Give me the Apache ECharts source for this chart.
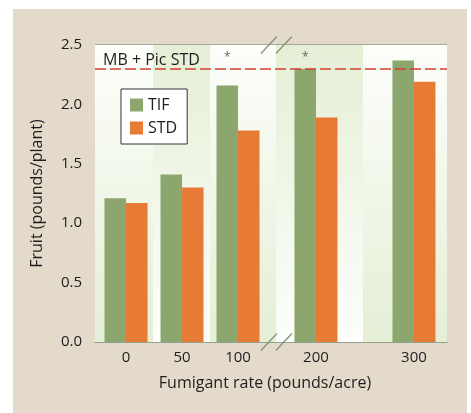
<!DOCTYPE html>
<html><head><meta charset="utf-8">
<script src="https://cdn.jsdelivr.net/npm/echarts@6/dist/echarts.min.js"></script>
<style>
html,body{margin:0;padding:0;background:#fff}
#bg{position:absolute;left:13px;top:9px;width:454px;height:404px;background:#e3dacb}
#c{position:absolute;left:0;top:0;width:471px;height:413px}
</style>
</head><body><div id="bg"></div><div id="c"></div>
<script>
// ---- data ----
const categories = ['0', '50', '100', '200', '300'];
const tif = [1.21, 1.41, 2.16, 2.30, 2.37];
const std = [1.17, 1.30, 1.78, 1.89, 2.19];
const significance = ['', '', '*', '*', ''];
const referenceValue = 2.3;
const referenceLabel = 'MB + Pic STD';
const yTicks = [0, 0.5, 1.0, 1.5, 2.0, 2.5];

// ---- layout of the broken x axis (axis units, not data) ----
const catPos = [0.554, 1.554, 2.554, 3.946, 5.696];
const bandEdges = [0, 1.036, 2.054, 3.232, 4.786, 6.286];
const breakPos = 3.24;
const sigLevel = 2.39;

const FONT = '"Open Sans", "Noto Sans", sans-serif';
const GREEN = '#e5efd6', WHITE = '#fdfefb';
const TXT = '#1e1e1e';

const chart = echarts.init(document.getElementById('c'), null, {renderer: 'canvas'});

const bands = [];
for (let i = 0; i < bandEdges.length - 1; i++) {
  const down = i % 2 === 0; // white top -> green bottom
  bands.push([
    {xAxis: bandEdges[i], itemStyle: {color: new echarts.graphic.LinearGradient(0, 0, 0, 1, [
      {offset: 0, color: down ? WHITE : GREEN},
      {offset: 1, color: down ? GREEN : WHITE}
    ])}},
    {xAxis: bandEdges[i + 1]}
  ]);
}

const option = {
  backgroundColor: 'transparent',
  animation: false,
  textStyle: {fontFamily: FONT},
  grid: {left: 95, right: 24, top: 45, bottom: 71, containLabel: false},
  legend: {
    orient: 'vertical',
    left: 121, top: 89,
    backgroundColor: '#fff',
    borderColor: '#333', borderWidth: 1,
    padding: [8, 10, 8, 9],
    itemWidth: 13, itemHeight: 13, itemGap: 7,
    textStyle: {fontFamily: FONT, fontSize: 16, color: TXT},
    data: [{name: 'TIF', icon: 'rect'}, {name: 'STD', icon: 'rect'}]
  },
  xAxis: {
    type: 'value',
    min: bandEdges[0], max: bandEdges[bandEdges.length - 1],
    axisLine: {show: true, lineStyle: {color: '#8e9c86', width: 1.5}},
    axisTick: {show: false},
    splitLine: {show: false},
    axisLabel: {
      customValues: catPos,
      formatter: v => {
        const i = catPos.findIndex(p => Math.abs(p - v) < 1e-6);
        return i >= 0 ? categories[i] : '';
      },
      fontFamily: FONT, fontSize: 15, color: TXT, margin: 8
    },
    name: 'Fumigant rate (pounds/acre)',
    nameLocation: 'middle', nameGap: 33,
    nameTextStyle: {fontFamily: FONT, fontSize: 16, color: TXT, padding: [0, 12, 0, 0]}
  },
  yAxis: {
    type: 'value', min: 0, max: 2.5, interval: 0.5,
    axisLine: {show: false}, axisTick: {show: false},
    splitLine: {show: true, lineStyle: {color: '#8e9c86', width: 1.5}},
    axisLabel: {
      customValues: yTicks,
      formatter: v => v.toFixed(1),
      fontFamily: FONT, fontSize: 15, color: TXT, margin: 13
    },
    name: 'Fruit (pounds/plant)',
    nameLocation: 'middle', nameGap: 50,
    nameTextStyle: {fontFamily: FONT, fontSize: 16, color: TXT}
  },
  series: [
    {
      type: 'line', data: [], z: -1, silent: true,
      markArea: {silent: true, data: bands}
    },
    {
      name: 'TIF', type: 'bar', barWidth: 21.5, barGap: '0%',
      itemStyle: {color: '#8ca76e'},
      data: tif.map((v, i) => [catPos[i], v]),
      markLine: {
        silent: true, symbol: 'none',
        lineStyle: {color: '#d53f33', width: 1.5, type: [11, 4]},
        label: {
          show: true, position: 'insideStartTop', formatter: referenceLabel,
          fontFamily: FONT, fontSize: 16, color: TXT, distance: [8, 0]
        },
        data: [{yAxis: referenceValue}]
      }
    },
    {
      name: 'STD', type: 'bar', barWidth: 21.5, barGap: '0%',
      itemStyle: {color: '#e77b36'},
      data: std.map((v, i) => [catPos[i], v])
    },
    {
      type: 'scatter', silent: true, symbolSize: 0,
      data: significance.map((s, i) => s ? {value: [catPos[i], sigLevel], label: {formatter: s}} : null).filter(Boolean),
      label: {show: true, position: 'inside', offset: [-10.75, 0], fontFamily: FONT, fontSize: 12, color: '#444'}
    }
  ]
};
chart.setOption(option);

// axis-break marks "//" at the top and bottom
const pTop = chart.convertToPixel({gridIndex: 0}, [breakPos, 2.5]);
const pBot = chart.convertToPixel({gridIndex: 0}, [breakPos, 0]);
const marks = [];
[pTop, pBot].forEach(p => {
  [-7.5, 7.5].forEach(dx => {
    marks.push({
      type: 'line', z: 100,
      shape: {x1: p[0] + dx - 8, y1: p[1] + 8.5, x2: p[0] + dx + 8, y2: p[1] - 8.5},
      style: {stroke: '#7f9274', lineWidth: 1.2}
    });
  });
});
chart.setOption({graphic: marks});
</script>
</body></html>
